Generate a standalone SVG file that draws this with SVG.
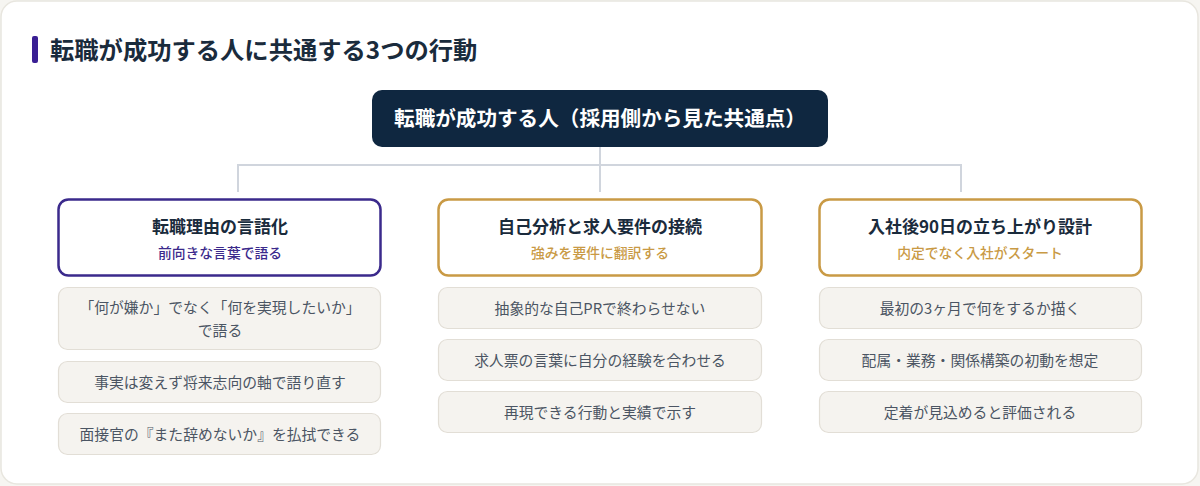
<svg xmlns="http://www.w3.org/2000/svg" width="1200" height="486" viewBox="0 0 1200 486">
<style>
text{font-family:"Noto Sans CJK JP","Noto Sans",sans-serif;text-anchor:middle}
.head{fill:#fff;stroke-width:2.5}
.h1{font-size:17px;font-weight:700;fill:#1a2b3c}
.sub{font-size:13.8px;font-weight:500}
.item{fill:#f5f3ef;stroke:#e2ded6;stroke-width:1.2}
.it{font-size:14.8px;fill:#4b5563}
.conn{fill:none;stroke:#d0d5dd;stroke-width:2}
</style>
<rect x="0" y="0" width="1200" height="486" fill="#f6f5f1"/>
<rect x="1" y="1" width="1197" height="483" rx="16" fill="#ffffff" stroke="#e8e6df" stroke-width="1.5"/>
<g id="title">
<rect x="32" y="36" width="6" height="27" rx="2" fill="#3a1f94"/>
<text x="50" y="59" style="text-anchor:start;font-size:24.3px;font-weight:700;fill:#1a2b3c">転職が成功する人に共通する3つの行動</text>
</g>
<g id="connectors">
<path class="conn" d="M600 147 V192 M238 192 V165 H961 V192"/>
</g>
<g id="root">
<rect x="372" y="90" width="456" height="57" rx="10" fill="#0f2740"/>
<text x="600" y="125.5" style="font-size:20.6px;font-weight:700;fill:#ffffff">転職が成功する人（採用側から見た共通点）</text>
</g>
<g id="col1">
<rect class="head" x="58.5" y="199.5" width="322" height="76" rx="10" stroke="#3b2a8c"/>
<text class="h1" x="220" y="233">転職理由の言語化</text>
<text class="sub" x="220" y="258" fill="#3b2a8c">前向きな言葉で語る</text>
</g>
<g id="col1-item1">
<rect class="item" x="58.5" y="287.5" width="322" height="62" rx="9"/>
<text class="it" x="220" y="313">「何が嫌か」でなく「何を実現したいか」</text>
<text class="it" x="220" y="336">で語る</text>
</g>
<g id="col1-item2">
<rect class="item" x="58.5" y="361.5" width="322" height="41" rx="9"/>
<text class="it" x="220" y="387.5">事実は変えず将来志向の軸で語り直す</text>
</g>
<g id="col1-item3">
<rect class="item" x="58.5" y="413.5" width="322" height="41" rx="9"/>
<text class="it" x="220" y="439.5">面接官の『また辞めないか』を払拭できる</text>
</g>
<g id="col2">
<rect class="head" x="438.5" y="199.5" width="323" height="76" rx="10" stroke="#c99a45"/>
<text class="h1" x="600" y="233">自己分析と求人要件の接続</text>
<text class="sub" x="600" y="258" fill="#c99a45">強みを要件に翻訳する</text>
</g>
<g id="col2-item1">
<rect class="item" x="438.5" y="287.5" width="323" height="41" rx="9"/>
<text class="it" x="600" y="313.5">抽象的な自己PRで終わらせない</text>
</g>
<g id="col2-item2">
<rect class="item" x="438.5" y="339.5" width="323" height="41" rx="9"/>
<text class="it" x="600" y="365.5">求人票の言葉に自分の経験を合わせる</text>
</g>
<g id="col2-item3">
<rect class="item" x="438.5" y="391.5" width="323" height="41" rx="9"/>
<text class="it" x="600" y="417.5">再現できる行動と実績で示す</text>
</g>
<g id="col3">
<rect class="head" x="819.5" y="199.5" width="322" height="76" rx="10" stroke="#c99a45"/>
<text class="h1" x="980" y="233">入社後90日の立ち上がり設計</text>
<text class="sub" x="980" y="258" fill="#c99a45">内定でなく入社がスタート</text>
</g>
<g id="col3-item1">
<rect class="item" x="819.5" y="287.5" width="322" height="41" rx="9"/>
<text class="it" x="980" y="313.5">最初の3ヶ月で何をするか描く</text>
</g>
<g id="col3-item2">
<rect class="item" x="819.5" y="339.5" width="322" height="41" rx="9"/>
<text class="it" x="980" y="365.5">配属・業務・関係構築の初動を想定</text>
</g>
<g id="col3-item3">
<rect class="item" x="819.5" y="391.5" width="322" height="41" rx="9"/>
<text class="it" x="980" y="417.5">定着が見込めると評価される</text>
</g>
</svg>
